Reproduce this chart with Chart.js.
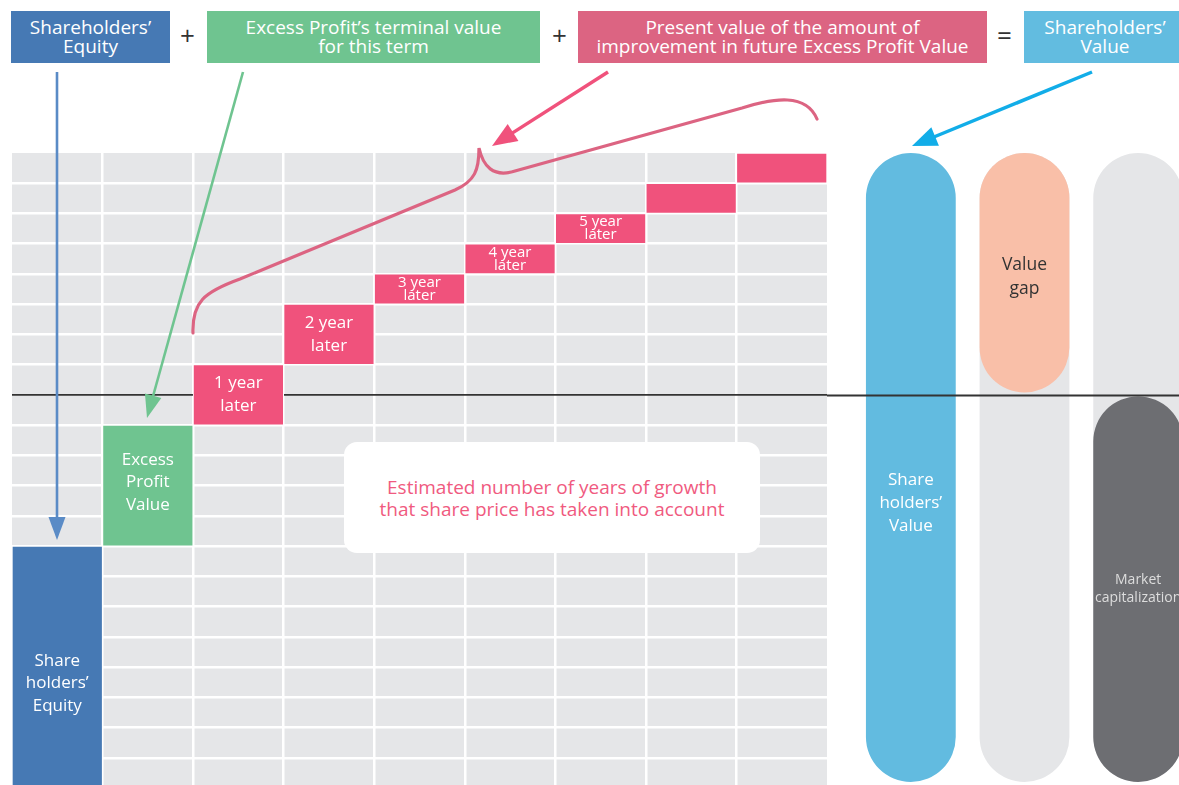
<!DOCTYPE html>
<html>
<head>
<meta charset="utf-8">
<script src="https://cdn.jsdelivr.net/npm/chart.js@4.4.1/dist/chart.umd.min.js"></script>
<style>
  html, body { margin: 0; padding: 0; background: #fff; overflow: hidden; }
  body { width: 1179px; height: 785px; position: relative; font-family: "Open Sans", sans-serif; }
  .hbox { position: absolute; top: 11px; height: 52px; color: #fff; font-size: 19px; line-height: 19.5px;
          display: flex; align-items: center; justify-content: center; text-align: center; }
  .op { position: absolute; top: 20px; font-size: 26px; color: #333; line-height: 30px; }
  #mainWrap { position: absolute; left: 12px; top: 153px; width: 815px; height: 635px; }
  #pillWrap { position: absolute; left: 827px; top: 153px; width: 368px; height: 635px; }
  #note { position: absolute; left: 344px; top: 442px; width: 416px; height: 111px; background: #fff;
          border-radius: 13px; color: #f05a80; font-size: 19px; line-height: 22px; text-align: center;
          display: flex; align-items: center; justify-content: center; }
  #overlay { position: absolute; left: 0; top: 0; pointer-events: none; }
</style>
</head>
<body>

<div class="hbox" style="left:11px; width:159px; background:#4679b4;">Shareholders’<br>Equity</div>
<div class="op" style="left:180px;">+</div>
<div class="hbox" style="left:207px; width:333px; background:#6fc490;">Excess Profit’s terminal value<br>for this term</div>
<div class="op" style="left:552px;">+</div>
<div class="hbox" style="left:578px; width:409px; background:#dc6482;">Present value of the amount of<br>improvement in future Excess Profit Value</div>
<div class="op" style="left:997px;">=</div>
<div class="hbox" style="left:1024px; width:162px; background:#62bce0;">Shareholders’<br>Value</div>

<div id="mainWrap"><canvas id="mainChart"></canvas></div>
<div id="pillWrap"><canvas id="pillChart"></canvas></div>

<div id="note">Estimated number of years of growth<br>that share price has taken into account</div>

<svg id="overlay" width="1179" height="785"></svg>

<script>
// Step chart data (grid units, 0 = bottom of the grid)
const mainCategories = ['Shareholders’ Equity', 'Excess Profit Value', '1 year later', '2 year later',
                        '3 year later', '4 year later', '5 year later', '6 year later', '7 year later'];
const mainLow  = [0, 8, 12, 14, 16, 17, 18, 19, 20];
const mainHigh = [8, 12, 14, 16, 17, 18, 19, 20, 21];
const mainLabels = [['Share', 'holders’', 'Equity'], ['Excess', 'Profit', 'Value'], ['1 year', 'later'],
                    ['2 year', 'later'], ['3 year', 'later'], ['4 year', 'later'], ['5 year', 'later'], [], []];
const yMin = 0;
const yMax = 21;
const baseLine = 13;

// Right hand pills
const pillCategories = ['Shareholders’ Value', 'Value gap', 'Market capitalization'];
const pillLow  = [0.2, 13.08, 0.2];
const pillHigh = [21, 21, 12.95];
const trackLow  = [null, 0.2, 0.2];
const trackHigh = [null, 21, 21];
const pillLabels = [['Share', 'holders’', 'Value'], ['Value', 'gap'], ['Market', 'capitalization']];

const mainColors = ['#4679b4', '#6fc490', '#f0527c', '#f0527c', '#f0527c', '#f0527c', '#f0527c', '#f0527c', '#f0527c'];
const pillColors = ['#62bbe0', '#f9bfa8', '#6d6e72'];

// Background of the grid
const gridBackground = {
    id: 'gridBackground',
    beforeDraw(chart, args, opts) {
        if (!opts.color) return;
        const a = chart.chartArea;
        const ctx = chart.ctx;
        ctx.save();
        ctx.fillStyle = opts.color;
        ctx.fillRect(a.left, a.top, a.right - a.left, a.bottom - a.top);
        ctx.restore();
    }
};

// Text inside bars
const barText = {
    id: 'barText',
    afterDatasetsDraw(chart, args, opts) {
        if (!opts.lines) return;
        const ctx = chart.ctx;
        const meta = chart.getDatasetMeta(0);
        meta.data.forEach((bar, i) => {
            const lines = opts.lines[i] || [];
            if (!lines.length) return;
            const st = opts.style(i);
            const cy = (bar.y + bar.base) / 2 + (st.dy || 0);
            ctx.save();
            ctx.fillStyle = st.color;
            ctx.font = st.size + 'px "Open Sans", sans-serif';
            ctx.textAlign = 'center';
            ctx.textBaseline = 'middle';
            const start = cy - (lines.length - 1) * st.lh / 2;
            lines.forEach((t, k) => ctx.fillText(t, bar.x, start + k * st.lh));
            ctx.restore();
        });
    }
};

// Zero line that runs across the pill area
const crossLine = {
    id: 'crossLine',
    afterDatasetsDraw(chart, args, opts) {
        if (opts.value === undefined) return;
        const y = Math.round(chart.scales.y.getPixelForValue(opts.value)) + 0.5;
        const ctx = chart.ctx;
        ctx.save();
        ctx.strokeStyle = '#333';
        ctx.lineWidth = 1.8;
        ctx.beginPath();
        ctx.moveTo(0, y);
        ctx.lineTo(chart.width, y);
        ctx.stroke();
        ctx.restore();
    }
};

Chart.register(gridBackground, barText, crossLine);

new Chart(document.getElementById('mainChart'), {
    type: 'bar',
    data: {
        labels: mainCategories,
        datasets: [{
            data: mainLow.map((v, i) => [v, mainHigh[i]]),
            backgroundColor: mainColors,
            borderColor: '#fff',
            borderWidth: 1,
            borderSkipped: false,
            categoryPercentage: 1,
            barPercentage: 1
        }]
    },
    options: {
        responsive: true,
        maintainAspectRatio: false,
        animation: false,
        layout: { padding: 0 },
        scales: {
            x: {
                ticks: { display: false },
                border: { display: false },
                grid: {
                    drawTicks: false,
                    offset: true,
                    lineWidth: 2.5,
                    color: c => (c.index === undefined || c.index === 0) ? 'rgba(0,0,0,0)' : '#fff'
                }
            },
            y: {
                min: yMin,
                max: yMax,
                ticks: { display: false, stepSize: 1 },
                border: { display: false },
                grid: {
                    drawTicks: false,
                    lineWidth: c => c.tick && c.tick.value === baseLine ? 1.8 : 2.5,
                    color: c => {
                        if (!c.tick) return 'rgba(0,0,0,0)';
                        if (c.tick.value === baseLine) return '#333';
                        if (c.tick.value === yMax || c.tick.value === yMin) return 'rgba(0,0,0,0)';
                        return '#fff';
                    }
                }
            }
        },
        plugins: {
            legend: { display: false },
            tooltip: { enabled: false },
            gridBackground: { color: '#e5e6e8' },
            barText: {
                lines: mainLabels,
                style: i => {
                    if (i === 0) return { color: '#fff', size: 17, lh: 22.5, dy: 17 };
                    if (i === 1) return { color: '#fff', size: 17, lh: 22.5, dy: -3 };
                    if (i <= 3) return { color: '#fff', size: 17, lh: 23 };
                    return { color: '#fff', size: 15, lh: 13 };
                }
            }
        }
    }
});

new Chart(document.getElementById('pillChart'), {
    type: 'bar',
    data: {
        labels: pillCategories,
        datasets: [{
            data: pillLow.map((v, i) => [v, pillHigh[i]]),
            backgroundColor: pillColors,
            borderRadius: 45,
            borderSkipped: false,
            categoryPercentage: 1,
            barPercentage: 0.79
        }, {
            data: trackLow.map((v, i) => v === null ? null : [v, trackHigh[i]]),
            backgroundColor: '#e5e6e8',
            borderRadius: 45,
            borderSkipped: false,
            categoryPercentage: 1,
            barPercentage: 0.79
        }]
    },
    options: {
        responsive: true,
        maintainAspectRatio: false,
        animation: false,
        layout: { padding: { left: 27 } },
        scales: {
            x: { display: false, stacked: true },
            y: { display: false, min: yMin, max: yMax }
        },
        plugins: {
            legend: { display: false },
            tooltip: { enabled: false },
            crossLine: { value: baseLine },
            barText: {
                lines: pillLabels,
                style: i => {
                    if (i === 0) return { color: '#fff', size: 17, lh: 23, dy: 36 };
                    if (i === 1) return { color: '#333', size: 17.5, lh: 24, dy: 4 };
                    return { color: '#ddd', size: 14, lh: 18, dy: 0 };
                }
            }
        }
    }
});

// Arrows and brace
const svg = document.getElementById('overlay');
function arrow(x1, y1, x2, y2, color, w, len, half) {
    const dx = x2 - x1, dy = y2 - y1;
    const d = Math.hypot(dx, dy);
    const ux = dx / d, uy = dy / d;
    const bx = x2 - ux * len, by = y2 - uy * len;
    const px = -uy * half, py = ux * half;
    svg.innerHTML += `<line x1="${x1}" y1="${y1}" x2="${bx + ux * 2}" y2="${by + uy * 2}" stroke="${color}" stroke-width="${w}"/>` +
        `<polygon points="${x2},${y2} ${bx + px},${by + py} ${bx - px},${by - py}" fill="${color}"/>`;
}
arrow(57, 72, 57, 540, '#5a8bc6', 2.6, 23, 8.5);
arrow(243, 72, 147, 418, '#6fc490', 2.6, 23, 8.5);
arrow(608, 72, 492, 146, '#f0527c', 3.5, 25, 10);
arrow(1092, 72, 912, 146, '#12ade8', 3.5, 25, 10);

svg.innerHTML += '<path d="M193,333 C192,302 204,292 240,279 L455,190 C475,181 479,170 479,148 ' +
    'C483,166 493,178 515,171 L742,108 C774,98 806,93 817,119" fill="none" stroke="#dc6482" stroke-width="3.2" stroke-linecap="round"/>';
</script>
</body>
</html>
